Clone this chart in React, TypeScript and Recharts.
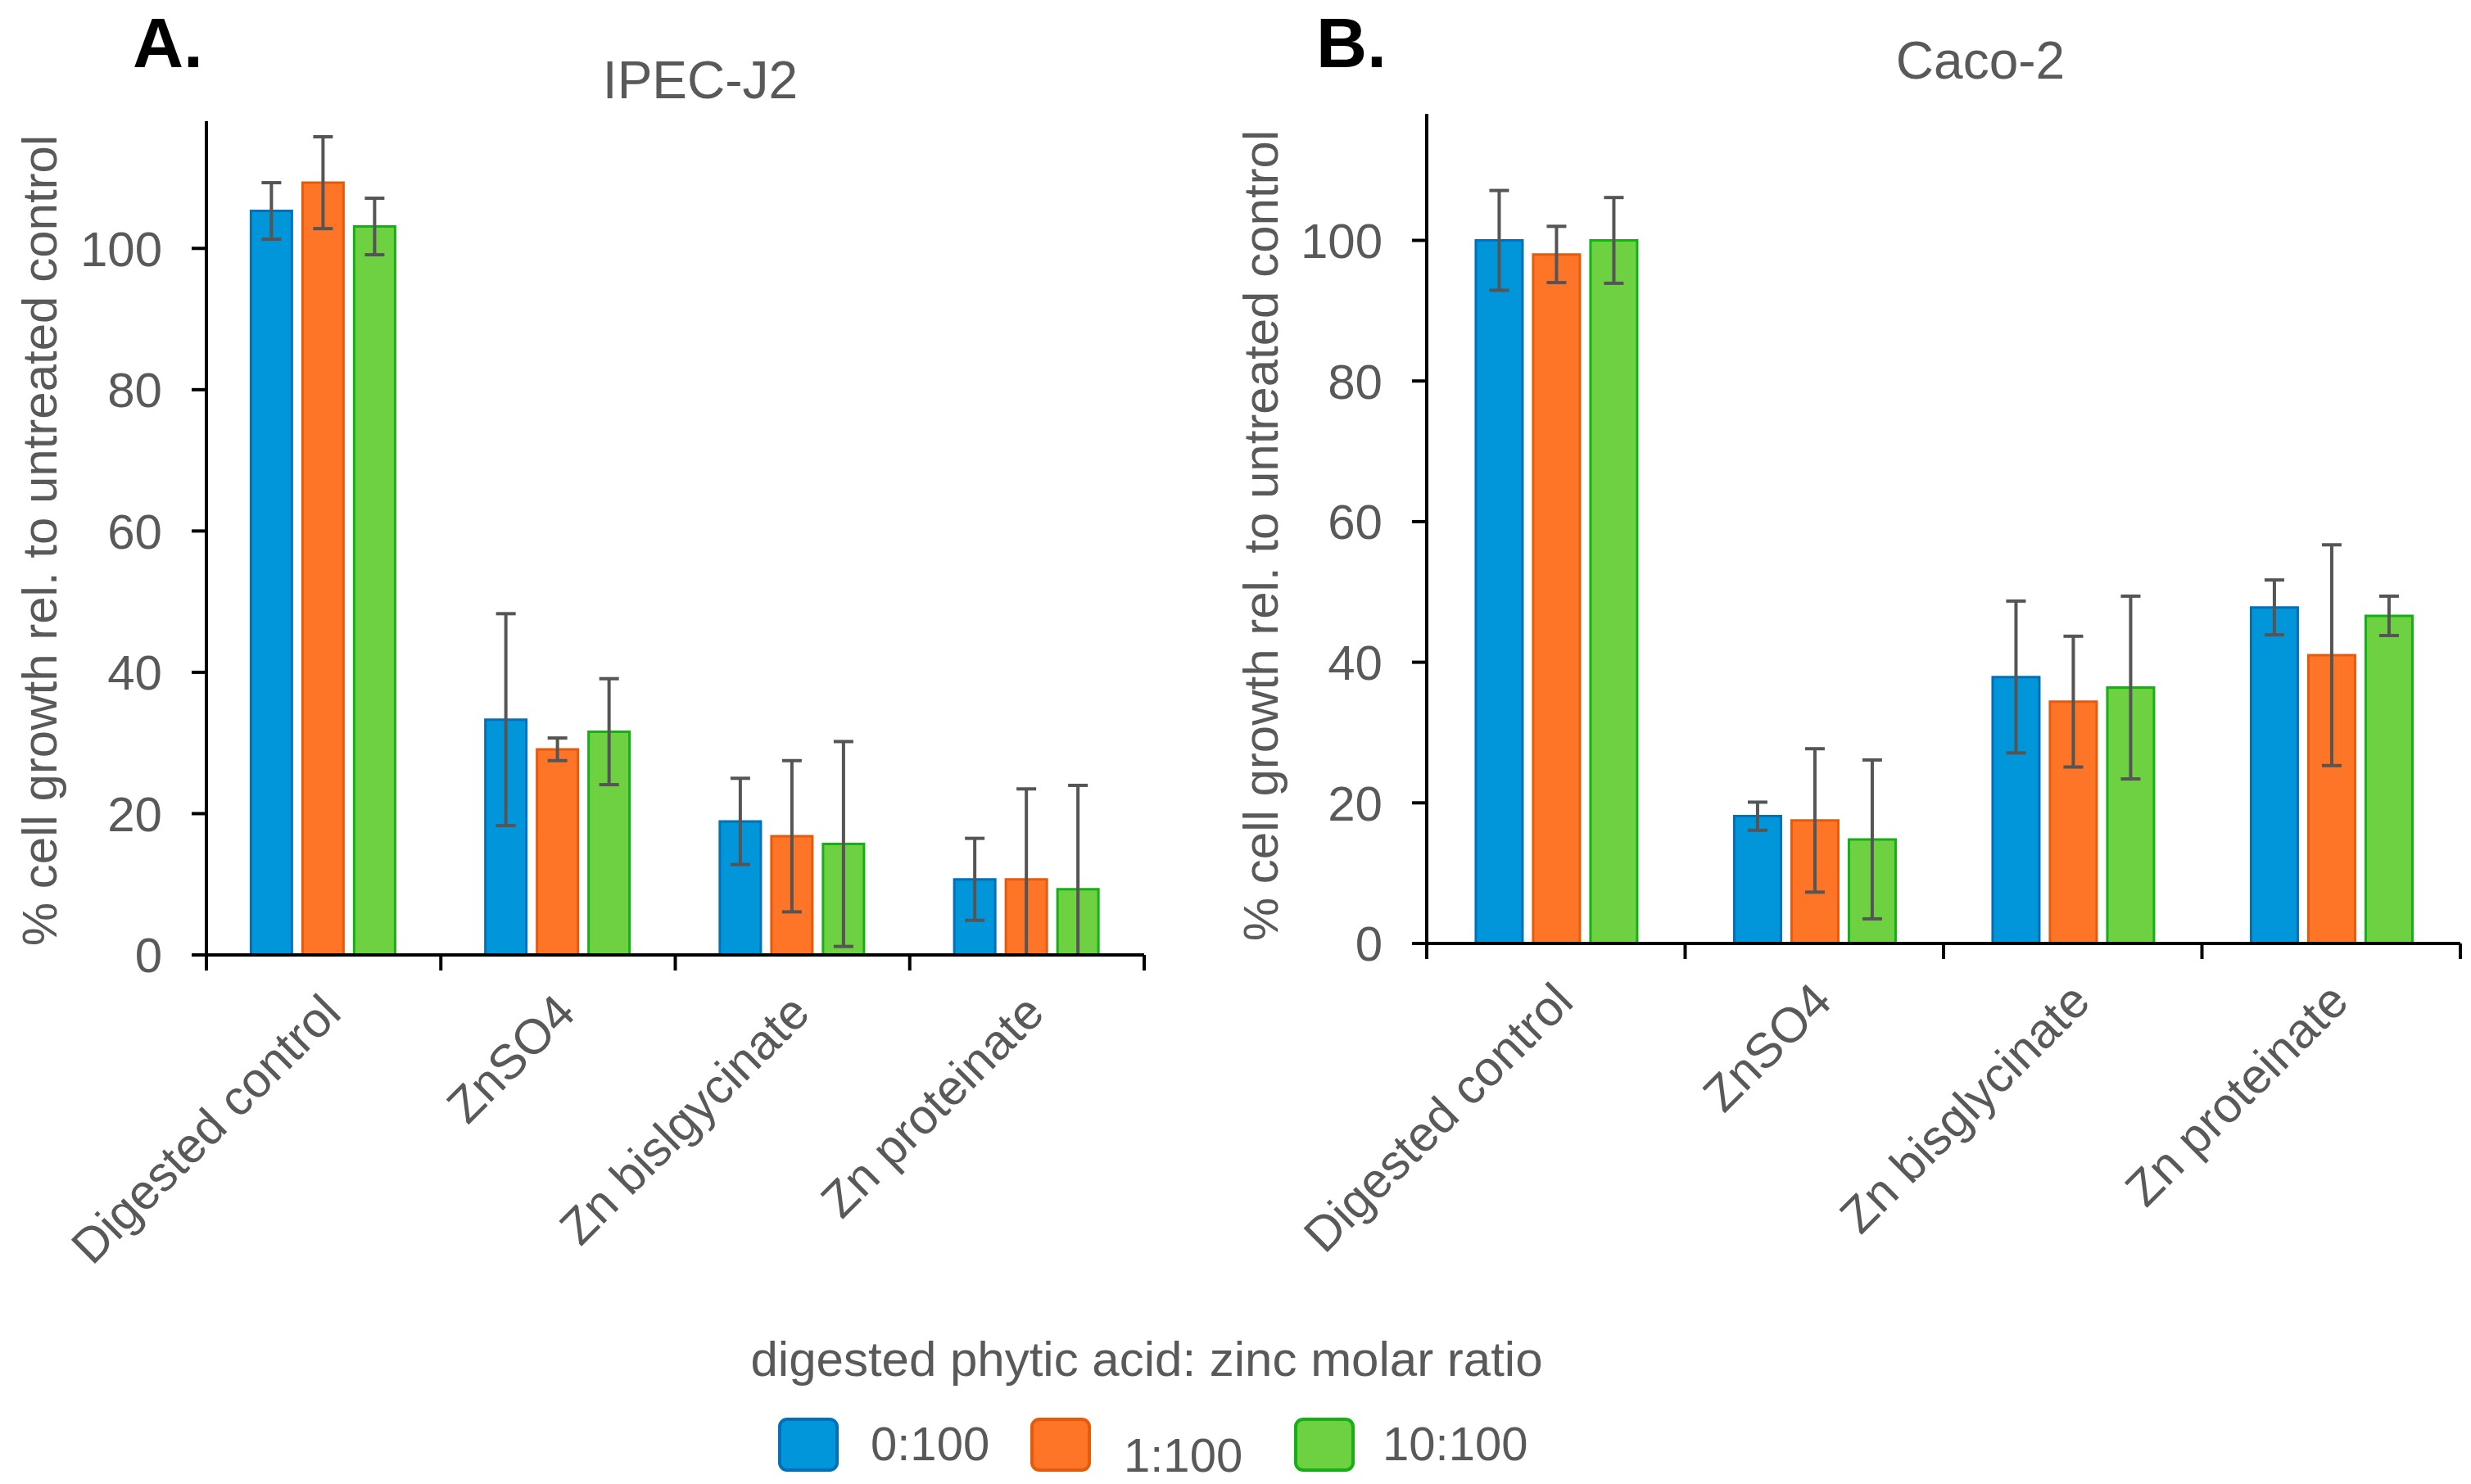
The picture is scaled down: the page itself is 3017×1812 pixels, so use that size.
import React from 'react';
import { BarChart, Bar, XAxis, YAxis, ErrorBar } from 'recharts';

const FONT = '"Liberation Sans", Arial, sans-serif';
const GREY = '#595959';

const categoriesA = ['Digested control', 'ZnSO4', 'Zn bislgycinate', 'Zn proteinate'];
const categoriesB = ['Digested control', 'ZnSO4', 'Zn bisglycinate', 'Zn proteinate'];
const ratios = ['0:100', '1:100', '10:100'];
const yTicks = [0, 20, 40, 60, 80, 100];

// IPEC-J2 means and SDs
const ipec0 = [105.3, 33.3, 18.9, 10.7];
const ipec1 = [109.3, 29.1, 16.8, 10.7];
const ipec10 = [103.1, 31.6, 15.7, 9.3];
const ipecErr0 = [4.0, 15.0, 6.1, 5.8];
const ipecErr1 = [6.5, 1.6, 10.7, 12.8];
const ipecErr10 = [4.0, 7.5, 14.5, 14.7];

// Caco-2 means and SDs
const caco0 = [100.0, 18.1, 37.9, 47.8];
const caco1 = [98.0, 17.5, 34.4, 41.0];
const caco10 = [100.0, 14.8, 36.4, 46.6];
const cacoErr0 = [7.1, 2.0, 10.8, 3.9];
const cacoErr1 = [4.0, 10.2, 9.3, 15.7];
const cacoErr10 = [6.1, 11.3, 13.0, 2.8];

const fills = ['#0096d9', '#ff7527', '#6ed142'];
const strokes = ['#0070b8', '#e65a0c', '#14b014'];

// error bars are cut at the axis, like in the original
const err = (v: number, e: number) => [Math.min(e, v), e];

function buildRows(cats: string[], vals: number[][], errs: number[][]) {
  return cats.map((name, i) => ({
    name,
    v0: vals[0][i], v1: vals[1][i], v10: vals[2][i],
    e0: err(vals[0][i], errs[0][i]),
    e1: err(vals[1][i], errs[1][i]),
    e10: err(vals[2][i], errs[2][i]),
  }));
}

const dataA = buildRows(categoriesA, [ipec0, ipec1, ipec10], [ipecErr0, ipecErr1, ipecErr10]);
const dataB = buildRows(categoriesB, [caco0, caco1, caco10], [cacoErr0, cacoErr1, cacoErr10]);

function CategoryTick(props: any) {
  const { x, y, payload, index, band, count } = props;
  const half = payload && payload.offset ? payload.offset : band / 2;
  const ax = x + 24;
  const ay = y + 74;
  return (
    <g>
      <line x1={x - half} y1={y} x2={x - half} y2={y + 19} stroke="#000" strokeWidth={4} />
      {index === count - 1 && (
        <line x1={x + half} y1={y} x2={x + half} y2={y + 19} stroke="#000" strokeWidth={4} />
      )}
      <text x={ax} y={ay} transform={`rotate(-45, ${ax}, ${ay})`} textAnchor="end"
        fontSize={60} fill={GREY} fontFamily={FONT}>{payload.value}</text>
    </g>
  );
}

function Panel({ data, width, margin, yWidth, band }: any) {
  const keys = ['v0', 'v1', 'v10'];
  const errKeys = ['e0', 'e1', 'e10'];
  return (
    <BarChart width={width} height={1600} data={data} margin={margin}
      barCategoryGap="19%" barGap={13}>
      <XAxis dataKey="name" height={400} interval={0} tickLine={false} tickSize={0} tickMargin={0}
        axisLine={{ stroke: '#000', strokeWidth: 4 }}
        tick={(p: any) => <CategoryTick {...p} band={band} count={data.length} />} />
      <YAxis type="number" domain={[0, 118]} ticks={yTicks} width={yWidth} tickSize={18} tickMargin={36}
        axisLine={{ stroke: '#000', strokeWidth: 4 }} tickLine={{ stroke: '#000', strokeWidth: 4 }}
        tick={{ fontSize: 60, fill: GREY, fontFamily: FONT }} />
      {keys.map((k, i) => (
        <Bar key={k} dataKey={k} name={ratios[i]} fill={fills[i]} stroke={strokes[i]} strokeWidth={3}
          isAnimationActive={false}>
          <ErrorBar dataKey={errKeys[i]} width={12} stroke="#555555" strokeWidth={4} direction="y" />
        </Bar>
      ))}
    </BarChart>
  );
}

export default function App() {
  const legendItems = [
    { rx: 952, tx: 1063, ty: 1783 },
    { rx: 1260, tx: 1372, ty: 1797 },
    { rx: 1582, tx: 1688, ty: 1783 },
  ];
  return (
    <div style={{ position: 'absolute', left: 0, top: 0, width: 3017, height: 1812, background: '#fff', fontFamily: FONT }}>
      <div style={{ position: 'absolute', left: 0, top: 0 }}>
        <Panel data={dataA} width={1440} yWidth={252} band={286.25}
          margin={{ top: 148, right: 43, bottom: 34, left: 0 }} />
      </div>
      <div style={{ position: 'absolute', left: 1500, top: 0 }}>
        <Panel data={dataB} width={1517} yWidth={242} band={315.5}
          margin={{ top: 139, right: 13, bottom: 48, left: 0 }} />
      </div>
      <svg width={3017} height={1812} style={{ position: 'absolute', left: 0, top: 0, pointerEvents: 'none' }}
        fontFamily={FONT}>
        <text x={162} y={82} fontSize={86} fontWeight="bold" fill="#000">A.</text>
        <text x={1607} y={82} fontSize={86} fontWeight="bold" fill="#000">B.</text>
        <text x={855} y={120} textAnchor="middle" fontSize={64} fill={GREY}>IPEC-J2</text>
        <text x={2418} y={96} textAnchor="middle" fontSize={64} fill={GREY}>Caco-2</text>
        <text transform="translate(48,660) rotate(-90)" textAnchor="middle" dominantBaseline="central"
          fontSize={60} fill={GREY}>% cell growth rel. to untreated control</text>
        <text transform="translate(1539,654) rotate(-90)" textAnchor="middle" dominantBaseline="central"
          fontSize={60} fill={GREY}>% cell growth rel. to untreated control</text>
        <text x={1400} y={1680} textAnchor="middle" fontSize={60} fill={GREY}>digested phytic acid: zinc molar ratio</text>
        {legendItems.map((it, i) => (
          <g key={ratios[i]}>
            <rect x={it.rx} y={1733} width={70} height={62} rx={9} fill={fills[i]} stroke={strokes[i]} strokeWidth={4} />
            <text x={it.tx} y={it.ty} fontSize={58} fill={GREY}>{ratios[i]}</text>
          </g>
        ))}
      </svg>
    </div>
  );
}
